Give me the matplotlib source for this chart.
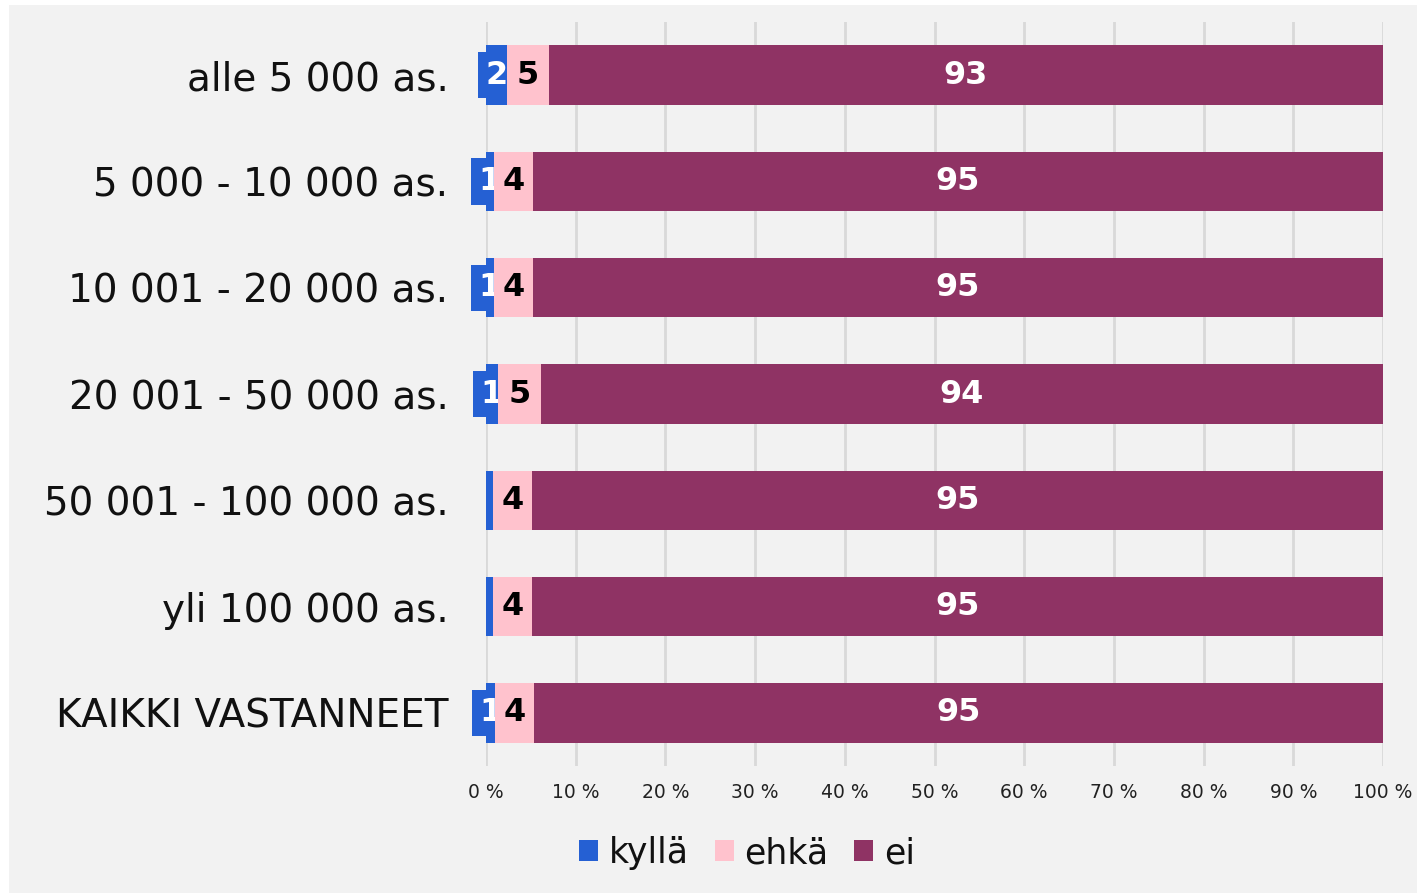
import matplotlib
matplotlib.use("Agg")
import matplotlib.pyplot as plt
from matplotlib.patches import Rectangle

categories = ["alle 5 000 as.", "5 000 - 10 000 as.", "10 001 - 20 000 as.",
              "20 001 - 50 000 as.", "50 001 - 100 000 as.", "yli 100 000 as.",
              "KAIKKI VASTANNEET"]
kylla = [2.3, 0.9, 0.9, 1.3, 0.8, 0.8, 1.0]
ehka = [4.7, 4.3, 4.3, 4.8, 4.3, 4.3, 4.3]
ei = [93.0, 94.8, 94.8, 93.9, 94.9, 94.9, 94.7]
kylla_lbl = ["2", "1", "1", "1", "", "", "1"]
ehka_lbl = ["5", "4", "4", "5", "4", "4", "4"]
ei_lbl = ["93", "95", "95", "94", "95", "95", "95"]
series_names = ["kyllä", "ehkä", "ei"]
xticks = [0, 10, 20, 30, 40, 50, 60, 70, 80, 90, 100]
xtick_labels = [f"{t} %" for t in xticks]

c_blue = "#2560d3"
c_pink = "#ffc2cd"
c_maroon = "#8f3364"
bg = "#f2f2f2"

plt.rcParams["font.family"] = ["DejaVu Sans"]

fig = plt.figure(figsize=(14.17, 8.93), dpi=100, facecolor="white")
fig.patches.append(Rectangle((9 / 1417, 0), 1 - 9 / 1417, 1 - 5 / 893,
                             transform=fig.transFigure, facecolor=bg,
                             edgecolor="none", zorder=-10))
ax = fig.add_axes([486 / 1417, 1 - 766 / 893, (1383 - 486) / 1417, (766 - 22) / 893])
ax.set_zorder(1)
ax.patch.set_visible(False)

y = list(range(len(categories)))
h = 0.56
left2 = [a for a in kylla]
left3 = [a + b for a, b in zip(kylla, ehka)]

b1 = ax.barh(y, kylla, height=h, color=c_blue, zorder=2, label=series_names[0])
b2 = ax.barh(y, ehka, left=left2, height=h, color=c_pink, zorder=4, label=series_names[1])
b3 = ax.barh(y, ei, left=left3, height=h, color=c_maroon, zorder=6, label=series_names[2])

lbl_fs = 23
for i in y:
    if kylla_lbl[i]:
        ax.text(kylla[i] / 2, i, kylla_lbl[i], ha="center", va="center",
                color="white", fontsize=lbl_fs, fontweight="bold", zorder=3,
                bbox=dict(boxstyle="square,pad=0.24", facecolor=c_blue, edgecolor="none"))
    ax.text(left2[i] + ehka[i] / 2, i, ehka_lbl[i], ha="center", va="center",
            color="black", fontsize=lbl_fs, fontweight="bold", zorder=5,
            bbox=dict(boxstyle="square,pad=0.2", facecolor=c_pink, edgecolor="none"))
    ax.text(left3[i] + ei[i] / 2, i, ei_lbl[i], ha="center", va="center",
            color="white", fontsize=lbl_fs, fontweight="bold", zorder=7)

ax.set_xlim(0, 100)
ax.set_ylim(len(categories) - 0.5, -0.5)
ax.set_xticks(xticks)
ax.set_xticklabels(xtick_labels, fontsize=13.5, color="#222222")
ax.set_yticks(y)
ax.set_yticklabels(categories, fontsize=28, color="#111111")
ax.tick_params(axis="y", length=0, pad=27)
ax.tick_params(axis="x", length=0, pad=12)
ax.grid(axis="x", color="#d9d9d9", linewidth=2, zorder=1)
ax.set_axisbelow(True)
for s in ax.spines.values():
    s.set_visible(False)

leg = fig.legend(handles=[b1, b2, b3], labels=series_names, loc="center",
                 bbox_to_anchor=(747 / 1417, 1 - 853 / 893), ncol=3, frameon=False,
                 fontsize=25, handlelength=0.55, handleheight=0.55, handletextpad=0.3,
                 columnspacing=0.75)
for t in leg.get_texts():
    t.set_color("#111111")

fig.savefig("out.png", dpi=100, facecolor="white")
